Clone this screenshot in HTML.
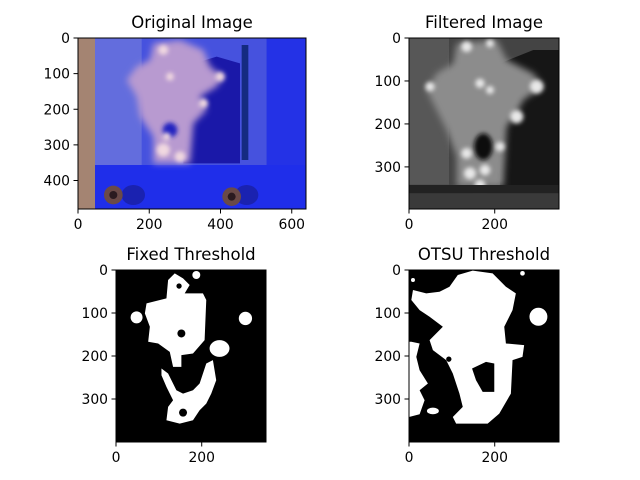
<!DOCTYPE html>
<html><head><meta charset="utf-8"><style>
html,body{margin:0;padding:0;background:#fff;}
svg{display:block;font-family:"DejaVu Sans","Liberation Sans",sans-serif;}
</style></head><body>
<svg id="fig" width="640" height="480" viewBox="0 0 640 480" xmlns="http://www.w3.org/2000/svg">
<defs>
<filter id="bl" x="-20%" y="-20%" width="140%" height="140%"><feGaussianBlur stdDeviation="10"/></filter>
<filter id="bl2" x="-50%" y="-50%" width="200%" height="200%"><feGaussianBlur stdDeviation="6"/></filter>
</defs>
<!-- Original image -->
<svg x="78" y="38" width="228" height="171" viewBox="24 24 684 513" preserveAspectRatio="none">
<rect x="24" y="24" width="684" height="513" fill="#2a34dc"/>
<rect x="75" y="24" width="515" height="385" fill="#4652de"/>
<rect x="75" y="24" width="140" height="385" fill="#6a74dc" opacity="0.8"/>
<path d="M340,110 L440,80 L510,100 L510,400 L340,400 Z" fill="#1a18a8"/>
<rect x="515" y="45" width="20" height="345" fill="#142a80"/>
<rect x="590" y="24" width="118" height="385" fill="#2432e6"/>
<rect x="24" y="405" width="684" height="132" fill="#1f2eea"/>
<rect x="24" y="24" width="51" height="513" fill="#a48472"/>
<g filter="url(#bl)">
<path d="M250,40 L330,30 L400,60 L420,110 L460,140 L440,170 L390,200 L410,240 L370,280 L360,400 L250,400 L250,320 L210,260 L200,200 L170,150 L200,110 L240,90 Z" fill="#b89ad0"/>
</g>
<circle cx="300" cy="300" r="22" fill="#2020c0" filter="url(#bl2)"/>
<g fill="#f0d8e0" filter="url(#bl2)">
<circle cx="280" cy="360" r="20"/><circle cx="330" cy="380" r="16"/><circle cx="290" cy="320" r="12"/>
<circle cx="400" cy="220" r="14"/><circle cx="450" cy="140" r="14"/><circle cx="280" cy="60" r="15"/><circle cx="300" cy="140" r="12"/>
</g>
<ellipse cx="190" cy="495" rx="35" ry="30" fill="#1a22b0"/>
<ellipse cx="530" cy="495" rx="35" ry="30" fill="#1a22b0"/>
<circle cx="130" cy="495" r="28" fill="#6a4a48"/><circle cx="130" cy="495" r="12" fill="#2a1a20"/>
<circle cx="485" cy="500" r="28" fill="#6a4a48"/><circle cx="485" cy="500" r="12" fill="#2a1a20"/>
</svg>
<!-- Filtered image -->
<svg x="409" y="38" width="150" height="171" viewBox="27 24 450 513" preserveAspectRatio="none">
<rect x="27" y="24" width="450" height="513" fill="#444"/>
<rect x="27" y="24" width="120" height="440" fill="#575757"/>
<path d="M300,100 L400,60 L477,60 L477,470 L300,470 Z" fill="#161616"/>
<g filter="url(#bl)">
<path d="M170,40 L290,30 L320,90 L400,130 L430,170 L370,210 L350,250 L320,290 L310,470 L170,470 L170,380 L140,300 L110,240 L80,180 L110,130 L160,100 Z" fill="#8c8c8c"/>
</g>
<ellipse cx="250" cy="350" rx="28" ry="40" fill="#101010" filter="url(#bl2)"/>
<g fill="#e8e8e8" filter="url(#bl2)">
<circle cx="200" cy="50" r="16"/><circle cx="270" cy="40" r="12"/><circle cx="410" cy="170" r="20"/><circle cx="350" cy="260" r="20"/>
<circle cx="90" cy="170" r="14"/><circle cx="240" cy="160" r="14"/><circle cx="270" cy="180" r="12"/>
<circle cx="200" cy="370" r="16"/><circle cx="210" cy="430" r="18"/><circle cx="255" cy="420" r="16"/><circle cx="240" cy="465" r="16"/><circle cx="300" cy="350" r="14"/>
</g>
<rect x="27" y="465" width="450" height="25" fill="#222"/>
<rect x="27" y="490" width="450" height="47" fill="#3a3a3a"/>
</svg>
<!-- Fixed threshold -->
<svg x="116" y="270" width="150" height="172" viewBox="48 30 452 515" preserveAspectRatio="none">
<rect x="48" y="30" width="452" height="515" fill="#000"/>
<g fill="#fff">
<path d="M140,130 L200,115 L205,60 L225,40 L250,55 L270,75 L255,100 L310,100 L320,120 L315,240 L280,280 L245,285 L245,320 L220,320 L210,275 L175,250 L145,245 L150,200 L135,160 Z"/>
<circle cx="110" cy="172" r="18"/>
<circle cx="290" cy="45" r="12"/>
<circle cx="438" cy="175" r="20"/>
<ellipse cx="360" cy="265" rx="30" ry="25"/>
<path d="M185,325 L205,340 L230,390 L250,400 L280,390 L300,370 L320,310 L340,300 L350,360 L335,400 L320,430 L300,450 L280,480 L240,490 L200,480 L205,440 L220,420 L200,380 L185,345 Z"/>
</g>
<g fill="#000"><circle cx="245" cy="220" r="12"/><circle cx="250" cy="457" r="12"/><circle cx="238" cy="78" r="8"/></g>
</svg>
<!-- OTSU threshold -->
<svg x="409" y="270" width="150" height="172" viewBox="928 30 452 515" preserveAspectRatio="none">
<rect x="928" y="30" width="452" height="515" fill="#000"/>
<g fill="#fff">
<path d="M1075,45 L1120,32 L1180,40 L1220,80 L1250,100 L1240,150 L1215,200 L1220,250 L1275,255 L1270,290 L1240,300 L1235,400 L1200,460 L1165,490 L1070,490 L1060,470 L1090,440 L1080,400 L1060,340 L1040,300 L1000,270 L990,240 L1030,200 L990,170 L960,150 L935,120 L940,90 L980,100 L1020,95 L1050,80 Z"/>
<circle cx="1318" cy="170" r="27"/>
<circle cx="1270" cy="40" r="7"/>
<path d="M928,470 L960,462 L975,420 L960,390 L985,370 L960,330 L950,290 L960,250 L935,245 L928,245 Z"/>
<ellipse cx="1000" cy="452" rx="18" ry="10"/>
<circle cx="940" cy="60" r="6"/><circle cx="945" cy="110" r="7"/>
</g>
<path d="M1118,325 L1160,305 L1185,310 L1185,395 L1150,395 L1130,360 Z" fill="#000"/>
<circle cx="1048" cy="297" r="8" fill="#000"/>
</svg>
<g id="axes"></g>
</svg>
<script>
const origXTicks=[0,200,400,600];
const origYTicks=[0,100,200,300,400];
const sqXTicks=[0,200];
const sqYTicks=[0,100,200,300];
const titles=["Original Image","Filtered Image","Fixed Threshold","OTSU Threshold"];
const panels=[
 {x0:78,y0:38,w:228,h:171,xmax:640,ymax:480,xt:origXTicks,yt:origYTicks,t:titles[0],n:'original'},
 {x0:409,y0:38,w:150,h:171,xmax:350,ymax:398,xt:sqXTicks,yt:sqYTicks,t:titles[1],n:'filtered'},
 {x0:116,y0:270,w:150,h:172,xmax:350,ymax:400,xt:sqXTicks,yt:sqYTicks,t:titles[2],n:'fixed'},
 {x0:409,y0:270,w:150,h:172,xmax:350,ymax:400,xt:sqXTicks,yt:sqYTicks,t:titles[3],n:'otsu'}];
const NS="http://www.w3.org/2000/svg";
const g=document.getElementById('axes');
function mk(tag,attrs,txt){const e=document.createElementNS(NS,tag);for(const k in attrs)e.setAttribute(k,attrs[k]);if(txt!==undefined)e.textContent=txt;g.appendChild(e);return e;}
panels.forEach(p=>{
 const sx=v=>p.x0+v/p.xmax*p.w, sy=v=>p.y0+v/p.ymax*p.h;
 const f=mk('rect',{x:p.x0,y:p.y0,width:p.w,height:p.h,fill:'none',stroke:'#000','stroke-width':1});
 
 
 const t=mk('text',{x:p.x0+p.w/2,y:p.y0-10,'text-anchor':'middle','font-size':16.5},p.t);
 
 
 p.xt.forEach(v=>{const x=sx(v);
  mk('line',{x1:x,x2:x,y1:p.y0+p.h,y2:p.y0+p.h+4.5,stroke:'#000','stroke-width':1});
  const l=mk('text',{x:x,y:p.y0+p.h+20,'text-anchor':'middle','font-size':13.9},v);
  
  });
 p.yt.forEach(v=>{const y=sy(v);
  mk('line',{x1:p.x0,x2:p.x0-4.5,y1:y,y2:y,stroke:'#000','stroke-width':1});
  const l=mk('text',{x:p.x0-8,y:y+5,'text-anchor':'end','font-size':13.9},v);
  
  });
});
</script>
</body></html>
